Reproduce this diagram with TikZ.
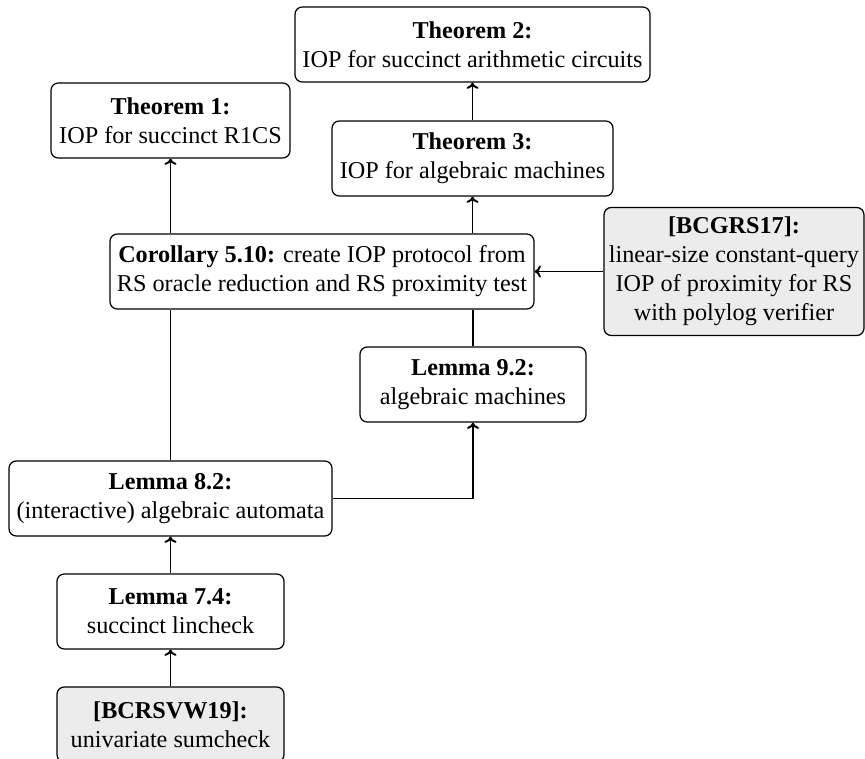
\documentclass[tikz,border=0pt]{standalone}
\usepackage{fontspec}
\setmainfont{Liberation Serif}
\usetikzlibrary{arrows.meta}
\def\pxu{0.4132pt}
\tikzset{
  box/.style={draw, line width=0.5pt, rounded corners=3pt, align=center,
    inner sep=0pt, font=\fontsize{10}{12}\selectfont,
    minimum height=75*\pxu},
  refbox/.style={box, fill=gray!15},
  conn/.style={line width=0.8pt},
  arr/.style={conn, -{To[length=2.6pt,width=5pt]}},
}
\begin{document}
\begin{tikzpicture}[x=0.4132pt,y=-0.4132pt]
\useasboundingbox (0,0) rectangle (865,759);
\node[box, minimum width=355*\pxu] (th2) at (472.5,44.5) {\textbf{Theorem 2:}\\IOP for succinct arithmetic circuits};
\node[box, minimum width=239*\pxu] (th1) at (170.5,120.5) {\textbf{Theorem 1:}\\IOP for succinct R1CS};
\node[box, minimum width=281*\pxu] (th3) at (472.5,158.5) {\textbf{Theorem 3:}\\IOP for algebraic machines};
\node[box, minimum width=424*\pxu] (cor) at (322,271.5) {\textbf{Corollary 5.10:} create IOP protocol from\\RS oracle reduction and RS proximity test};
\node[refbox, minimum width=260*\pxu, minimum height=128*\pxu] (bc17) at (734,271.5) {\textbf{[BCGRS17]:}\\linear-size constant-query\\IOP of proximity for RS\\with polylog verifier};
\node[box, minimum width=226*\pxu] (l92) at (473,384.5) {\textbf{Lemma 9.2:}\\algebraic machines};
\node[box, minimum width=323*\pxu] (l82) at (170.5,498.5) {\textbf{Lemma 8.2:}\\(interactive) algebraic automata};
\node[box, minimum width=227*\pxu] (l74) at (170.5,611.5) {\textbf{Lemma 7.4:}\\succinct lincheck};
\node[refbox, minimum width=227*\pxu] (bc19) at (170.5,724.5) {\textbf{[BCRSVW19]:}\\univariate sumcheck};

\draw[arr] (th1.south |- cor.north) -- (th1.south);
\draw[arr] (th3.south |- cor.north) -- (th3.south);
\draw[arr] (th3) -- (th2);
\draw[arr] (bc17.west) -- (cor.east |- bc17.west);
\draw[conn] (l82.north) -- (l82.north |- cor.south);
\draw[conn] (l92.north) -- (l92.north |- cor.south);
\draw[arr] (l82.east) -| (l92.south);
\draw[arr] (l74) -- (l82);
\draw[arr] (bc19) -- (l74);
\end{tikzpicture}
\end{document}
